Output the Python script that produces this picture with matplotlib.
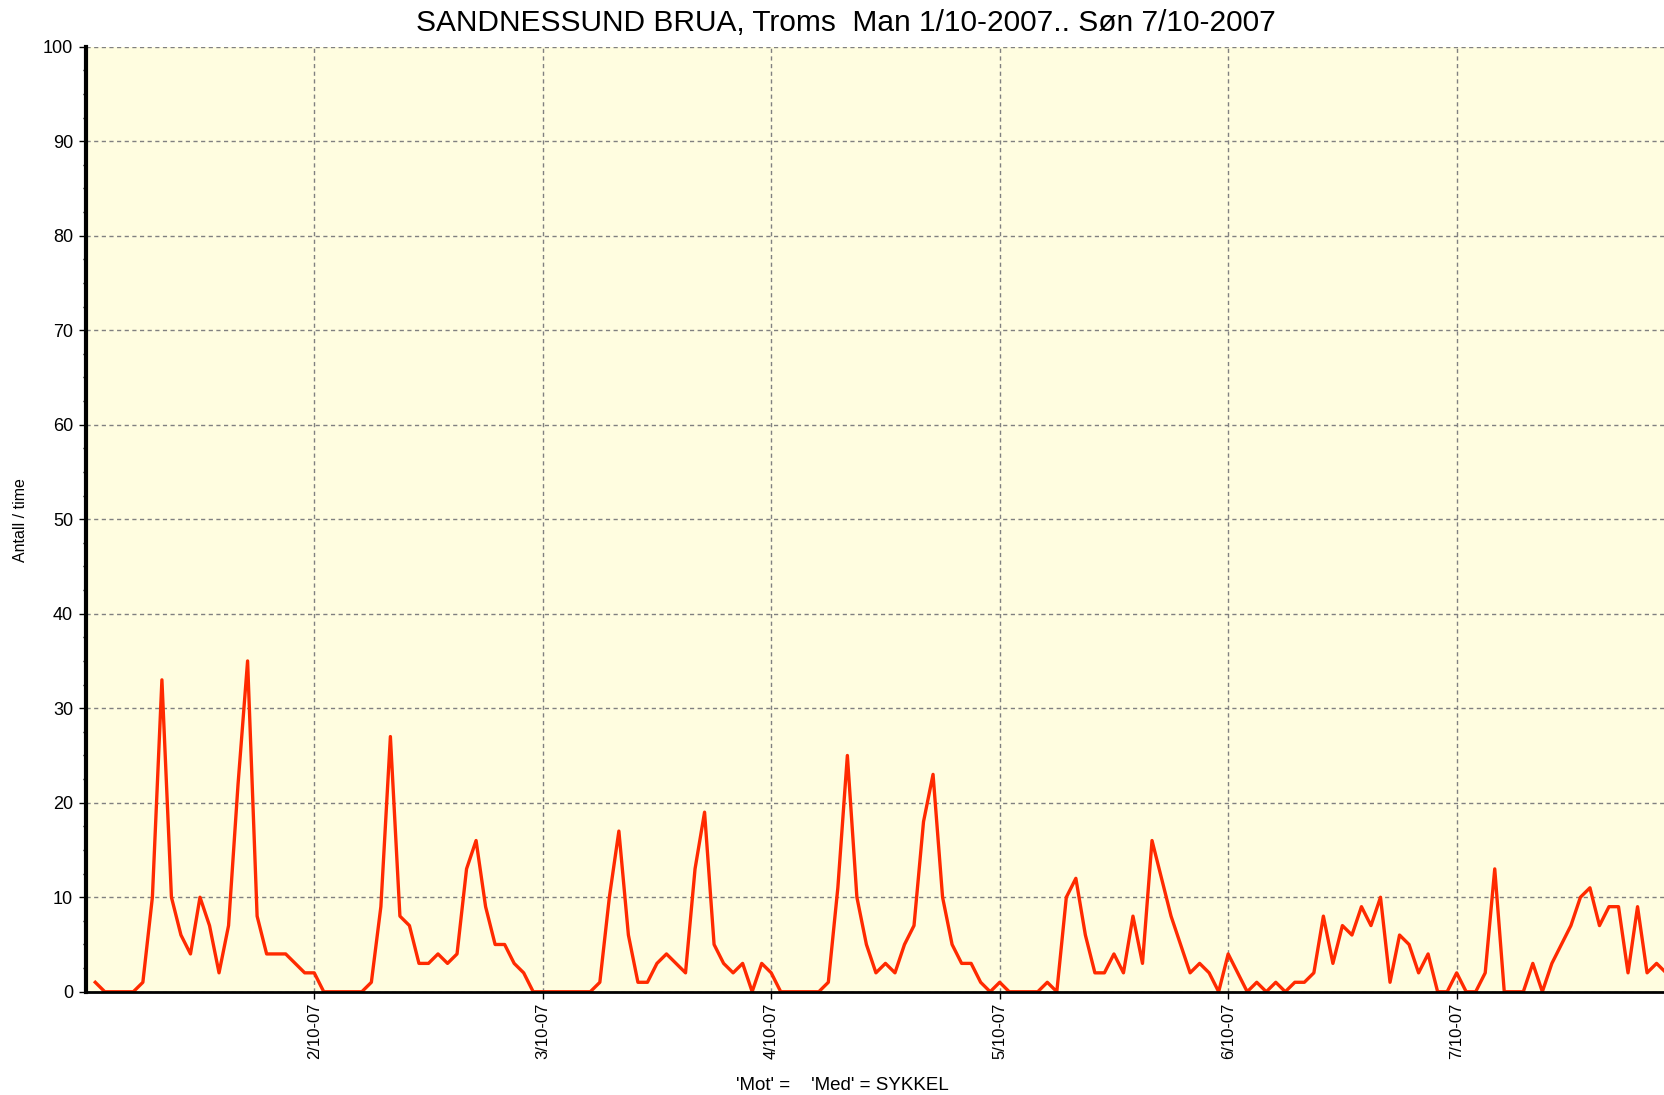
import numpy as np
import matplotlib.pyplot as plt
from matplotlib.ticker import MultipleLocator

plt.rcParams['font.family'] = ['Liberation Sans', 'DejaVu Sans']

# hourly counts, hour 1 .. 166 (the right end of the picture is cut off)
day1 = [1, 0, 0, 0, 0, 1, 10, 33, 10, 6, 4, 10, 7, 2, 7, 22, 35, 8, 4, 4, 4, 3, 2, 2]
day2 = [0, 0, 0, 0, 0, 1, 9, 27, 8, 7, 3, 3, 4, 3, 4, 13, 16, 9, 5, 5, 3, 2, 0, 0]
day3 = [0, 0, 0, 0, 0, 1, 10, 17, 6, 1, 1, 3, 4, 3, 2, 13, 19, 5, 3, 2, 3, 0, 3, 2]
day4 = [0, 0, 0, 0, 0, 1, 11, 25, 10, 5, 2, 3, 2, 5, 7, 18, 23, 10, 5, 3, 3, 1, 0, 1]
day5 = [0, 0, 0, 0, 1, 0, 10, 12, 6, 2, 2, 4, 2, 8, 3, 16, 12, 8, 5, 2, 3, 2, 0, 4]
day6 = [2, 0, 1, 0, 1, 0, 1, 1, 2, 8, 3, 7, 6, 9, 7, 10, 1, 6, 5, 2, 4, 0, 0, 2]
day7 = [0, 0, 2, 13, 0, 0, 0, 3, 0, 3, 5, 7, 10, 11, 7, 9, 9, 2, 9, 2, 3, 2]

counts = day1 + day2 + day3 + day4 + day5 + day6 + day7
hours = np.arange(1, len(counts) + 1)

day_ticks = [24, 48, 72, 96, 120, 144]
day_labels = ['2/10-07', '3/10-07', '4/10-07', '5/10-07', '6/10-07', '7/10-07']

fig = plt.figure(figsize=(16.65, 10.95), dpi=100)
# plot area runs past the right edge like in the original screenshot
ax = fig.add_axes([0.0515, 0.0943, 0.9606, 0.8631])
ax.set_facecolor('#fffde0')

ax.plot(hours, counts, color='#ff2a00', lw=2.4, zorder=3)

ax.set_xlim(0, 168)
ax.set_ylim(0, 100)
ax.set_xticks(day_ticks)
ax.set_xticklabels(day_labels, rotation=90, fontsize=12)
ax.yaxis.set_major_locator(MultipleLocator(10))
ax.yaxis.set_minor_locator(MultipleLocator(2.5))
ax.tick_params(axis='y', which='major', direction='out', length=5, width=1, labelsize=13, pad=4)
ax.tick_params(axis='y', which='minor', direction='out', length=2.5, width=1)
ax.tick_params(axis='x', direction='out', length=5, width=1, pad=3)

ax.grid(True, which='major', color='#808080', linestyle=(0, (3, 2.5)), lw=1)

ax.spines['top'].set_visible(False)
ax.spines['right'].set_visible(False)
ax.spines['left'].set_linewidth(3)
ax.spines['bottom'].set_linewidth(2)
ax.spines['bottom'].set_zorder(4)

fig.text(0.508, 0.9786, 'SANDNESSUND BRUA, Troms  Man 1/10-2007.. Søn 7/10-2007',
         ha='center', va='center', fontsize=21.5)
fig.text(0.0126, 0.525, 'Antall / time', rotation=90, ha='center', va='center', fontsize=11.5)
fig.text(0.506, 0.0091, "'Mot' =    'Med' = SYKKEL", ha='center', va='center', fontsize=13.5)

fig.savefig('out.png', dpi=100)
